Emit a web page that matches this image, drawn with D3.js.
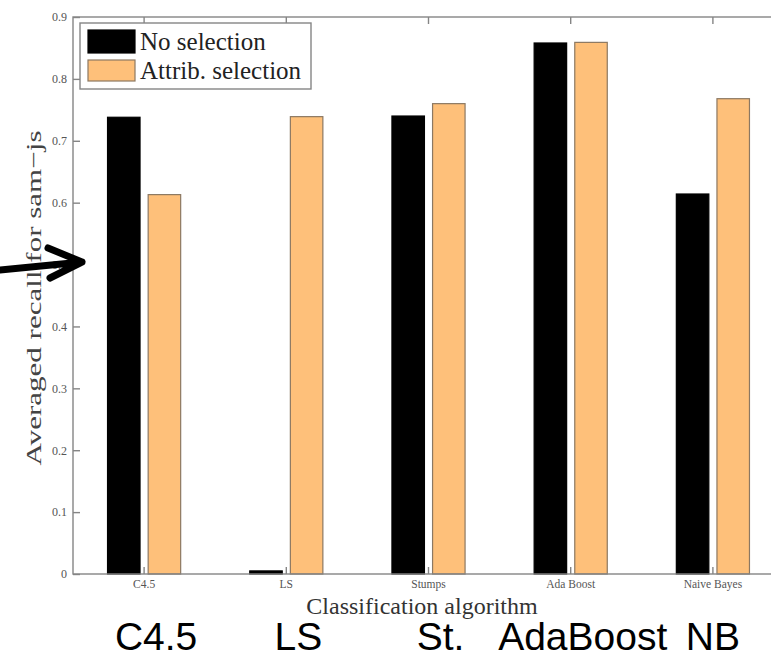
<!DOCTYPE html>
<html><head><meta charset="utf-8">
<script src="https://cdn.jsdelivr.net/npm/d3@7"></script>
<style>body{margin:0;background:#fff}svg{display:block}</style>
</head><body><svg id="c" width="771" height="660"></svg>
<script>
// ---- data ----
const categories = ["C4.5", "LS", "Stumps", "Ada Boost", "Naive Bayes"];
const seriesNames = ["No selection", "Attrib. selection"];
const noSelection = [0.738, 0.005, 0.740, 0.858, 0.614];
const attribSelection = [0.613, 0.739, 0.760, 0.859, 0.768];
const yTicks = [0, 0.1, 0.2, 0.3, 0.4, 0.5, 0.6, 0.7, 0.8, 0.9];
const yTickLabels = ["0", "0.1", "0.2", "0.3", "0.4", "0.5", "0.6", "0.7", "0.8", "0.9"];
const bottomLabels = ["C4.5", "LS", "St.", "AdaBoost", "NB"];
const yTitle = "Averaged recall for sam\u2212js";
const xTitle = "Classification algorithm";

// ---- layout ----
const svg = d3.select("#c");
const L = 73, R = 784, T = 17, B = 574;
const serif = "'Liberation Serif','Times New Roman',serif";
const axisCol = "#858585";

const x = d3.scaleBand().domain(categories).range([L, R]).padding(0);
const bw = x.bandwidth();
const x1 = d3.scaleBand().domain(seriesNames)
  .range([bw * 0.5 - bw * 0.2857, bw * 0.5 + bw * 0.2857])
  .paddingInner(0.2).paddingOuter(0.1);
const y = d3.scaleLinear().domain([0, 0.9]).range([B, T]);
const colors = {"No selection": "#000000", "Attrib. selection": "#fec07a"};
const strokes = {"No selection": "#000000", "Attrib. selection": "#8c7862"};

const rows = categories.map((c, i) => ({cat: c, vals: [
  {s: seriesNames[0], v: noSelection[i]},
  {s: seriesNames[1], v: attribSelection[i]}]}));

// bars
const g = svg.append("g");
g.selectAll("g.grp").data(rows).join("g").attr("class", "grp")
  .attr("transform", d => `translate(${x(d.cat)},0)`)
  .selectAll("rect").data(d => d.vals).join("rect")
  .attr("x", d => x1(d.s)).attr("width", x1.bandwidth())
  .attr("y", d => y(d.v)).attr("height", d => y(0) - y(d.v))
  .attr("fill", d => colors[d.s]).attr("stroke", d => strokes[d.s]).attr("stroke-width", 1.2);

// axes
function styleAxis(sel) {
  sel.selectAll("path,line").attr("stroke", axisCol).attr("stroke-width", 1.4);
  sel.selectAll("text").attr("fill", "#555").style("font-family", serif);
}
svg.append("g").attr("transform", `translate(${L},0)`)
  .call(d3.axisLeft(y).tickValues(yTicks).tickFormat((d, i) => yTickLabels[i])
    .tickSizeInner(-7).tickSizeOuter(0).tickPadding(6))
  .call(s => s.select(".domain").remove())
  .call(s => s.selectAll("text").style("font-size", "12px"))
  .call(styleAxis);
svg.append("g").attr("transform", `translate(${R},0)`)
  .call(d3.axisRight(y).tickValues(yTicks).tickFormat("").tickSizeInner(-7).tickSizeOuter(0))
  .call(s => s.select(".domain").remove())
  .call(styleAxis);
svg.append("g").attr("transform", `translate(0,${B})`)
  .call(d3.axisBottom(x).tickSizeInner(-7).tickSizeOuter(0).tickPadding(6))
  .call(s => s.select(".domain").remove())
  .call(s => s.selectAll("text").style("font-size", "11.5px"))
  .call(styleAxis);
svg.append("g").attr("transform", `translate(0,${T})`)
  .call(d3.axisTop(x).tickFormat("").tickSizeInner(-7).tickSizeOuter(0))
  .call(s => s.select(".domain").remove())
  .call(styleAxis);
// frame
svg.append("rect").attr("x", L).attr("y", T).attr("width", R - L).attr("height", B - T)
  .attr("fill", "none").attr("stroke", axisCol).attr("stroke-width", 1.4);

// legend
const lg = svg.append("g");
lg.append("rect").attr("x", 80).attr("y", 23).attr("width", 231).attr("height", 66)
  .attr("fill", "#fff").attr("stroke", axisCol).attr("stroke-width", 1.4);
seriesNames.forEach((s, i) => {
  lg.append("rect").attr("x", 88).attr("y", i === 0 ? 30 : 60).attr("width", 47).attr("height", i === 0 ? 23 : 21)
    .attr("fill", colors[s]).attr("stroke", strokes[s]).attr("stroke-width", 1.2);
  lg.append("text").attr("x", 140).attr("y", i === 0 ? 50 : 79).text(s)
    .style("font-family", serif).style("font-size", "25px").attr("fill", "#222");
});

// titles
svg.append("text").attr("x", 422).attr("y", 614).attr("text-anchor", "middle").text(xTitle)
  .style("font-family", serif).style("font-size", "24px").attr("fill", "#333");
svg.append("text").attr("transform", `translate(41,298) rotate(-90)`).attr("text-anchor", "middle")
  .attr("textLength", 335).attr("lengthAdjust", "spacingAndGlyphs").text(yTitle)
  .style("font-family", serif).style("font-size", "22px").attr("fill", "#444");

// bottom annotation labels
svg.selectAll("text.big").data(bottomLabels).join("text").attr("class", "big")
  .attr("x", (d, i) => x(categories[i]) + bw / 2 + (i < 4 ? 12 : 0)).attr("y", 650)
  .attr("text-anchor", "middle").text(d => d)
  .style("font-family", "'Liberation Sans',Arial,sans-serif").style("font-size", "39px").attr("fill", "#000");

// arrow
svg.append("path").attr("d", "M0,270 L82,262 M48,248 L82,262 L50,278")
  .attr("fill", "none").attr("stroke", "#000").attr("stroke-width", 7)
  .attr("stroke-linecap", "round").attr("stroke-linejoin", "round");
</script></body></html>
